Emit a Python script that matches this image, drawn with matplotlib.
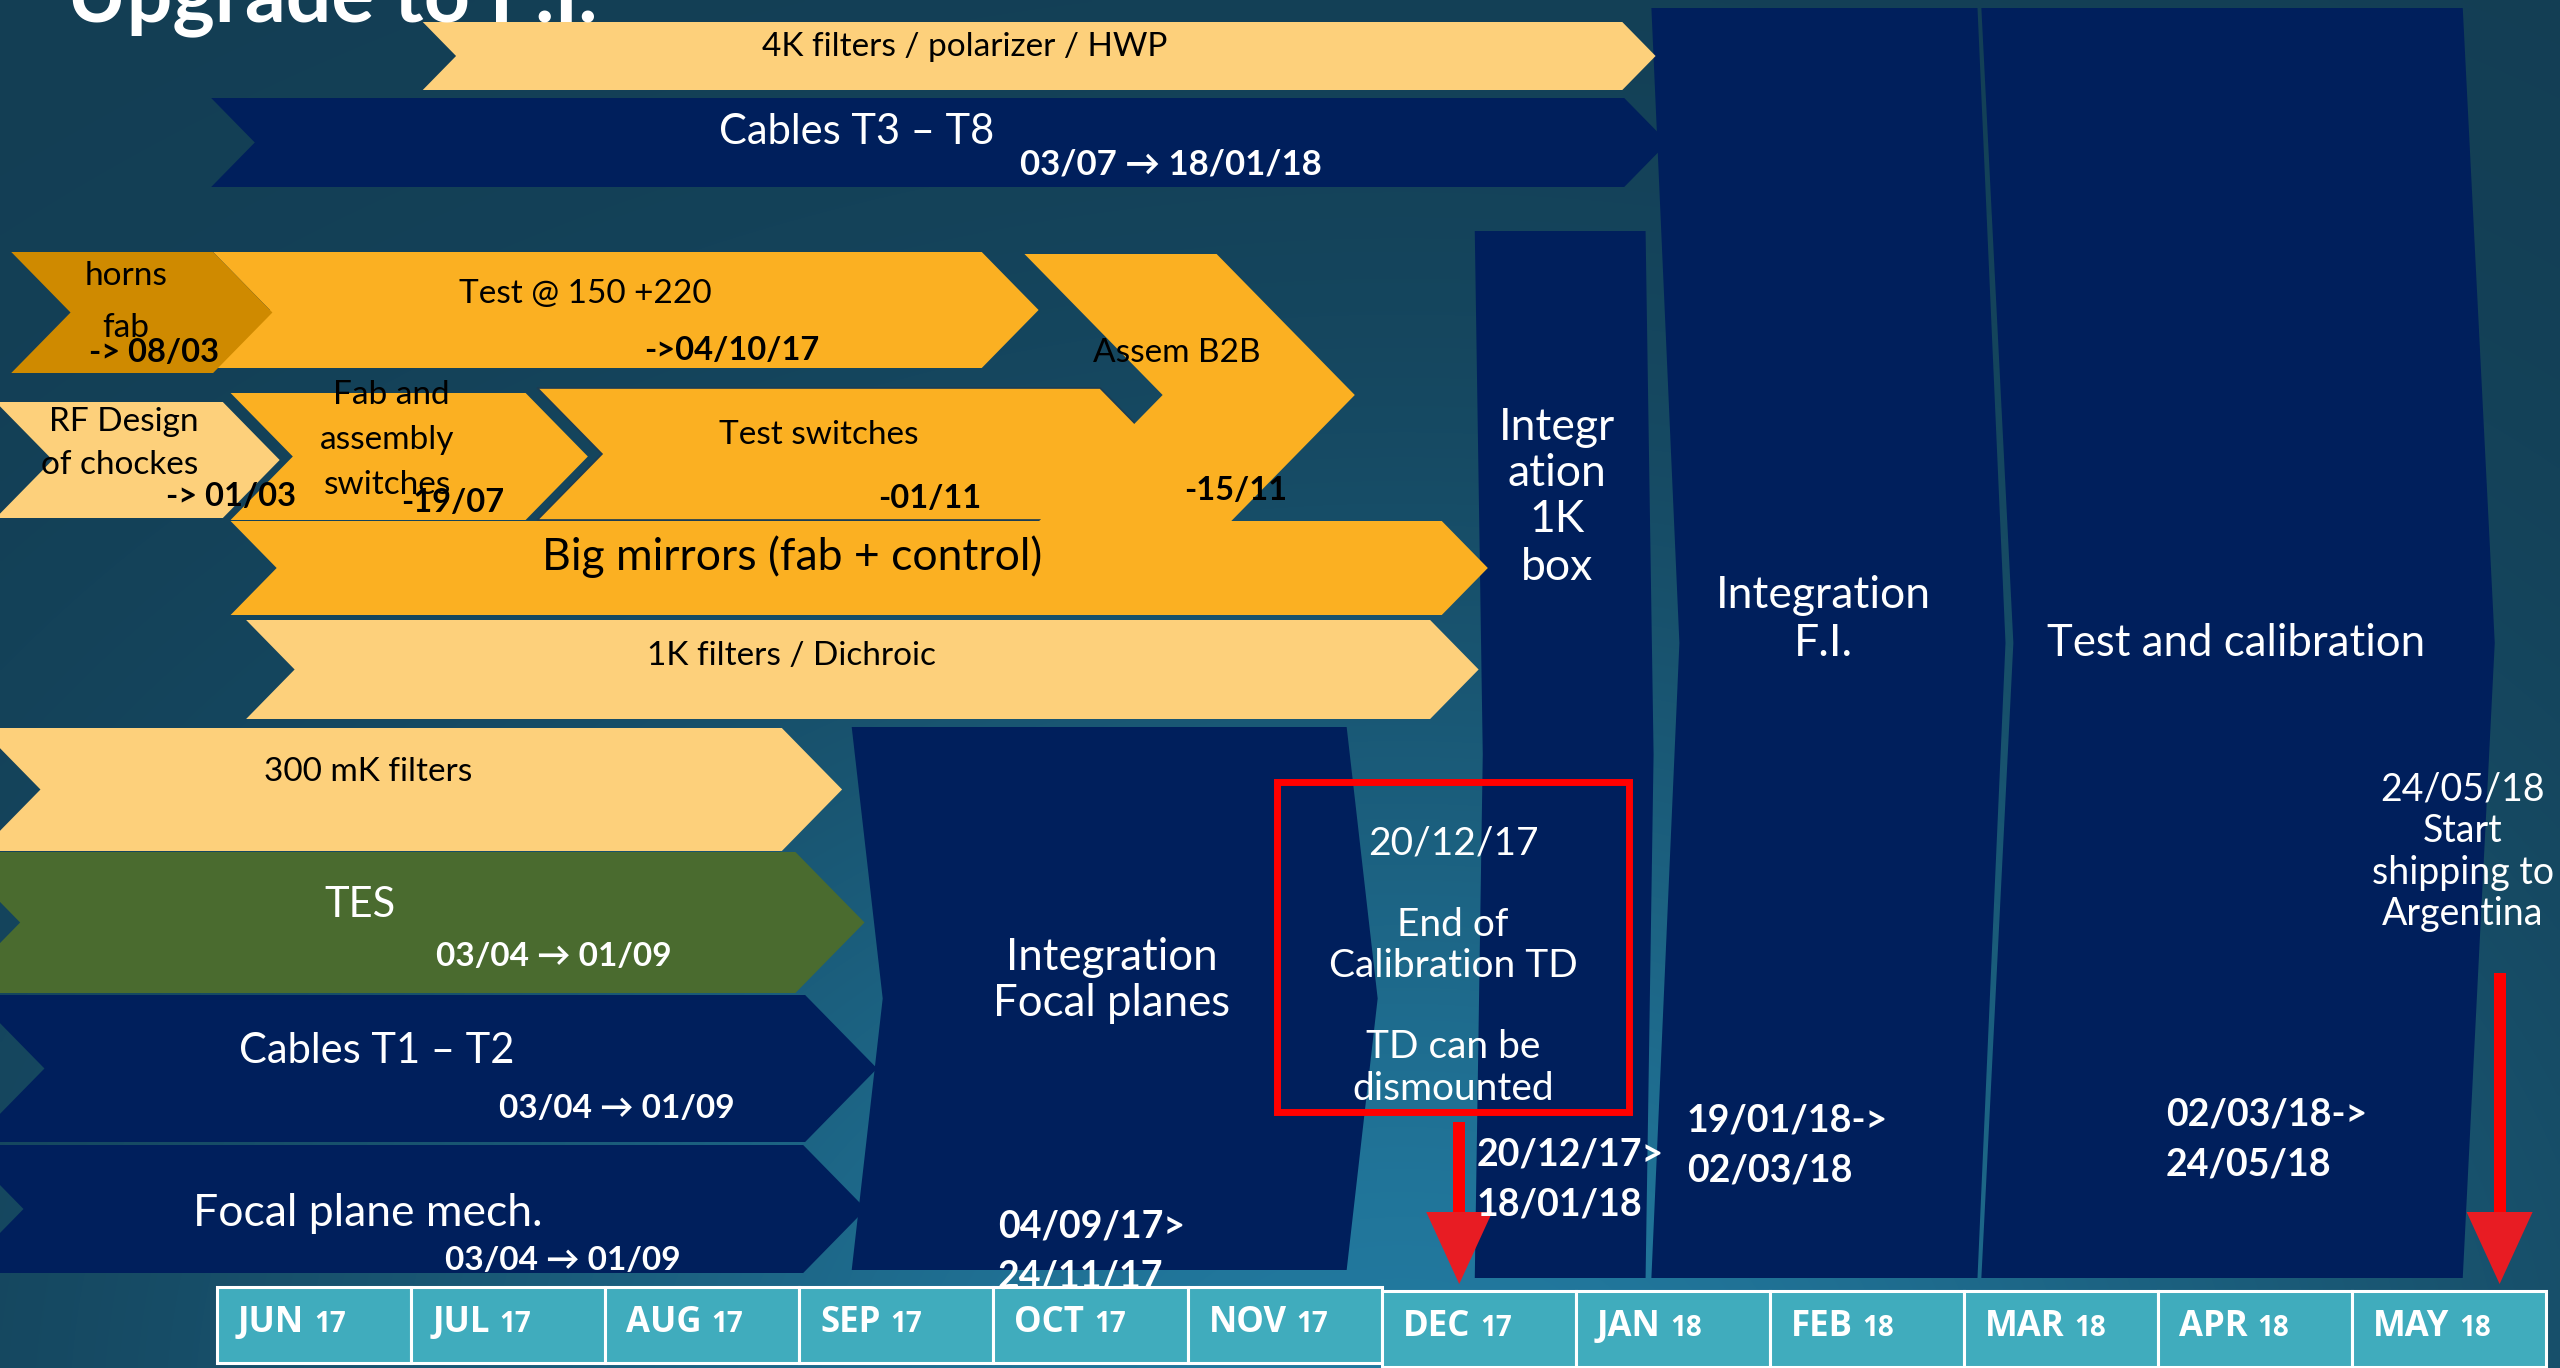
import matplotlib
matplotlib.use('Agg')
import matplotlib.pyplot as plt
from matplotlib.patches import Polygon, Rectangle
import numpy as np

# time axis: month 0 = June 2017
months = ['JUN', 'JUL', 'AUG', 'SEP', 'OCT', 'NOV', 'DEC', 'JAN', 'FEB', 'MAR', 'APR', 'MAY']
years = ['17', '17', '17', '17', '17', '17', '17', '18', '18', '18', '18', '18']

# horizontal work packages, start/end in months since 1 Jun 2017
task_names = ['4K filters / polarizer / HWP', 'Cables T3 – T8', 'Test @ 150 +220', 'horns fab',
              'Test switches', 'Assem B2B', 'RF Design of chockes', 'Fab and assembly switches',
              'Big mirrors (fab + control)', '1K filters / Dichroic', '300 mK filters', 'TES',
              'Cables T1 – T2', 'Focal plane mech.']
task_start = [1.06, -0.03, -0.02, -1.06, 1.65, 4.16, -1.14, 0.07, 0.07, 0.15, -1.22, -1.37, -1.26, -1.32]
task_end = [7.24, 7.25, 3.94, -0.02, 4.55, 5.15, 0.03, 1.59, 6.31, 6.25, 2.91, 2.98, 3.03, 3.02]
task_kind = ['light', 'navy', 'orange', 'dark', 'orange', 'orange', 'light', 'orange',
             'orange', 'light', 'light', 'green', 'navy', 'navy']

# integration / test phases
phase_names = ['Integration Focal planes', 'Integration 1K box', 'Integration F.I.', 'Test and calibration']
phase_start = [3.27, 6.48, 7.39, 9.09]
phase_end = [5.82, 7.36, 9.07, 11.57]

# milestones marked with red arrows
milestone_month = [6.40, 11.76]

# ---- layout (pixels) ----
W, H = 2560, 1368
PX0, PXM = 217.0, 194.1          # pixel of month 0, pixels per month

def m2px(m):
    return PX0 + PXM * m

def px2m(x):
    return (x - PX0) / PXM

task_rows = [(22, 90), (98, 187), (252, 368), (252, 373), (388, 520), (254, 536), (402, 518),
             (393, 520), (521, 615), (620, 719), (728, 851), (852, 993), (995, 1142), (1145, 1273)]
phase_rows = [(727, 1270), (231, 1278), (8, 1278), (8, 1278)]
phase_depth = [31, 8, 28, 32]

colors = {'light': '#fdd07b', 'navy': '#001f5c', 'orange': '#fbb022',
          'dark': '#cf8a00', 'green': '#4a6b2f'}

FONT = ['Lato', 'DejaVu Sans']
plt.rcParams['font.family'] = FONT

fig = plt.figure(figsize=(W / 100, H / 100), dpi=100)
ax = fig.add_axes([0, 0, 1, 1])
ax.set_xlim(px2m(0), px2m(W))
ax.set_ylim(H, 0)
ax.axis('off')

# background gradient
yy, xx = np.mgrid[0:H:4, 0:W:4]
t = np.exp(-(((xx - 1400) / 1050.0) ** 2 + ((yy - 1420) / 780.0) ** 2))
dark = np.array([19, 62, 84]) / 255
light = np.array([34, 122, 160]) / 255
bg = dark + (light - dark) * t[..., None]
ax.imshow(bg, extent=[px2m(0), px2m(W), H, 0], aspect='auto', zorder=0, interpolation='bilinear')


def chevron(x0, x1, top, bot, depth, color, z, ec='none', lw=0):
    d = depth / PXM
    mid = (top + bot) / 2
    pts = [(x0, top), (x1, top), (x1 + d, mid), (x1, bot), (x0, bot), (x0 + d, mid)]
    ax.add_patch(Polygon(pts, closed=True, fc=color, ec=ec, lw=lw, zorder=z))


# vertical phases
for i in range(len(phase_names)):
    top, bot = phase_rows[i]
    chevron(phase_start[i], phase_end[i], top, bot, phase_depth[i], colors['navy'], 2)

# horizontal tasks
for i in range(len(task_names)):
    top, bot = task_rows[i]
    ec = '#1d3c52' if task_names[i] == 'Test switches' else 'none'
    chevron(task_start[i], task_end[i], top, bot, 0.49 * (bot - top), colors[task_kind[i]], 3 + i * 0.01,
            ec=ec, lw=1.2)

# red box
ax.add_patch(Rectangle((px2m(1276.5), 781.5), px2m(1629) - px2m(1276.5), 330,
                       fill=False, ec='#ff0000', lw=5, zorder=6))

# milestone arrows
for m, top in zip(milestone_month, [1122, 973]):
    hw = 6 / PXM
    head = 33 / PXM
    ax.add_patch(Rectangle((m - hw, top), 2 * hw, 1217 - top, fc='#ff0000', ec='none', zorder=7))
    ax.add_patch(Polygon([(m - head, 1212), (m + head, 1212), (m, 1284)], closed=True,
                         fc='#e81c23', ec='none', zorder=7))

# month boxes
fig.canvas.draw()
renderer = fig.canvas.get_renderer()
for i, (mo, yr) in enumerate(zip(months, years)):
    top = 1287 if i < 6 else 1291
    ax.add_patch(Rectangle((i, top), 1, 76, fc='#40acbd', ec='white', lw=2.2, zorder=8))
    t1 = ax.text(px2m(m2px(i) + 21), top + 45, mo, fontsize=25, fontweight='bold', color='white',
                 family=['Open Sans', 'DejaVu Sans'], ha='left', va='baseline', zorder=9)
    bb = t1.get_window_extent(renderer=renderer)
    ax.text(px2m(bb.x1 + 10), top + 45, yr, fontsize=20, fontweight='bold', color='white',
            family=['Open Sans', 'DejaVu Sans'], ha='left', va='baseline', zorder=9)


def put(x, y, s, size, color='black', weight='normal', ha='center', va='center', z=10):
    ax.text(px2m(x), y, s, fontsize=size, color=color, fontweight=weight, ha=ha, va=va,
            family=FONT, zorder=z)


put(67, 21, 'Upgrade to F.I.', 58, 'white', 'bold', ha='left', va='baseline')

# task labels
put(965, 47, '4K filters / polarizer / HWP', 24)
put(857, 132, 'Cables T3 – T8', 30, 'white')
put(1171, 164, '03/07 → 18/01/18', 25, 'white', 'bold')
put(126, 276, 'horns', 24)
put(126, 328, 'fab', 24)
put(154, 353, '-> 08/03', 23.5, weight='bold')
put(585, 294, 'Test @ 150 +220', 24)
put(732, 351, '->04/10/17', 23.5, weight='bold')
put(1177, 353, 'Assem B2B', 24)
put(1236, 491, '-15/11', 23.5, weight='bold')
put(124, 422, 'RF Design', 24)
put(120, 465, 'of chockes', 24)
put(231, 497, '-> 01/03', 23.5, weight='bold')
put(391, 395, 'Fab and', 24)
put(387, 440, 'assembly', 24)
put(387, 485, 'switches', 24)
put(453, 503, '-19/07', 23.5, weight='bold')
put(819, 435, 'Test switches', 24)
put(930, 499, '-01/11', 23.5, weight='bold')
put(792, 557, 'Big mirrors (fab + control)', 32)
put(791, 656, '1K filters / Dichroic', 24)
put(368, 772, '300 mK filters', 24)
put(360, 905, 'TES', 30, 'white')
put(554, 956, '03/04 → 01/09', 24, 'white', 'bold')
put(377, 1051, 'Cables T1 – T2', 30, 'white')
put(617, 1109, '03/04 → 01/09', 24, 'white', 'bold')
put(368, 1213, 'Focal plane mech.', 32, 'white')
put(563, 1260, '03/04 → 01/09', 24, 'white', 'bold')

# phase labels
put(1112, 957, 'Integration', 31.5, 'white')
put(1112, 1003, 'Focal planes', 31.5, 'white')
put(998, 1227, '04/09/17>', 27, 'white', 'bold', ha='left', z=7.5)
put(998, 1277, '24/11/17', 27, 'white', 'bold', ha='left', z=7.5)
for s, y in zip(['20/12/17', 'End of', 'Calibration TD', 'TD can be', 'dismounted'],
                [843, 925, 966, 1047, 1089]):
    put(1453, y, s, 28, 'white')
put(1477, 1154, '20/12/17>', 27, 'white', 'bold', ha='left')
put(1477, 1205, '18/01/18', 27, 'white', 'bold', ha='left')
for s, y in zip(['Integr', 'ation', '1K', 'box'], [428, 474, 519, 567]):
    put(1557, y, s, 32, 'white')
put(1823, 596, 'Integration', 32, 'white')
put(1823, 643, 'F.I.', 32, 'white')
put(2236, 643, 'Test and calibration', 31.5, 'white')
put(1687, 1120, '19/01/18->', 27, 'white', 'bold', ha='left')
put(1687, 1171, '02/03/18', 27, 'white', 'bold', ha='left')
put(2166, 1114, '02/03/18->', 27, 'white', 'bold', ha='left')
put(2166, 1165, '24/05/18', 27, 'white', 'bold', ha='left')
for s, y in zip(['24/05/18', 'Start', 'shipping to', 'Argentina'], [790, 831, 873, 914]):
    put(2463, y, s, 27, 'white')

fig.savefig('out.png', dpi=100)
